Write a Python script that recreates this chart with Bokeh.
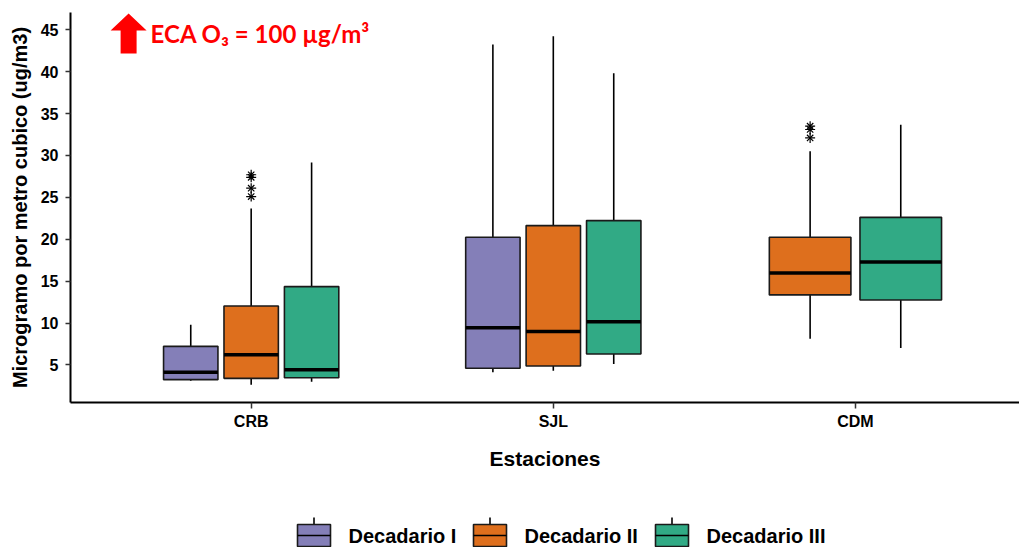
from bokeh.plotting import figure
from bokeh.layouts import column
from bokeh.models import (Range1d, FixedTicker, Label, PolyAnnotation, ColumnDataSource)
from bokeh.core.properties import value
from bokeh.embed import file_html
from bokeh.resources import INLINE

# ---------------- data ----------------
stations = ["CRB", "SJL", "CDM"]
groups = ["Decadario I", "Decadario II", "Decadario III"]
colors = ["#847FB8", "#DE6F1D", "#31AA85"]

box_station = ["CRB", "CRB", "CRB", "SJL", "SJL", "SJL", "CDM", "CDM"]
box_group = ["Decadario I", "Decadario II", "Decadario III",
             "Decadario I", "Decadario II", "Decadario III",
             "Decadario II", "Decadario III"]
lower = [3.13, 2.65, 3.00, 4.12, 4.32, 5.12, 8.14, 7.03]
q1 = [3.25, 3.40, 3.48, 4.60, 4.88, 6.31, 13.36, 12.76]
median = [4.12, 6.23, 4.44, 9.45, 8.98, 10.17, 15.98, 17.30]
q3 = [7.22, 12.04, 14.35, 20.24, 21.63, 22.23, 20.24, 22.62]
upper = [9.81, 23.66, 29.16, 43.24, 44.24, 39.82, 30.50, 33.66]

outlier_station = ["CRB", "CRB", "CRB", "CRB", "CDM", "CDM", "CDM"]
outlier_group = ["Decadario II"] * 7
outlier_value = [27.7, 27.4, 26.1, 25.1, 33.5, 33.1, 32.1]

y_ticks = [5, 10, 15, 20, 25, 30, 35, 40, 45]

# ---------------- dodge layout ----------------
DODGE = 0.6
present = {s: [g for g in groups if any(bs == s and bg == g for bs, bg in zip(box_station, box_group))]
           for s in stations}


def pos(s, g):
    gl = present[s]
    n = len(gl)
    slot = DODGE / n
    i = gl.index(g)
    return stations.index(s) + 1 + (i - (n - 1) / 2) * slot, 0.9 * slot


MAIN_H = 510
TOP = 12
p = figure(width=1019, height=MAIN_H, output_backend="svg", toolbar_location=None,
           x_range=Range1d(0.402, 3.543),
           y_range=Range1d(0.52, 45 + (29.3 - TOP) / 8.375),
           min_border_left=70, min_border_right=0, min_border_top=TOP, min_border_bottom=108)
p.outline_line_color = None
p.xgrid.visible = False
p.ygrid.visible = False
p.background_fill_color = "white"

BOX_STYLE = dict(line_color="#1a1a1a", line_width=1.6)
WHISK_STYLE = dict(line_color="black", line_width=1.6)

for g, c in zip(groups, colors):
    idx = [i for i, bg in enumerate(box_group) if bg == g]
    xs, ws = [], []
    for i in idx:
        x, w = pos(box_station[i], g)
        xs.append(x)
        ws.append(w)
    src = ColumnDataSource(dict(
        x=xs, w=ws,
        x0=[x - w / 2 for x, w in zip(xs, ws)],
        x1=[x + w / 2 for x, w in zip(xs, ws)],
        lo=[lower[i] for i in idx], q1=[q1[i] for i in idx],
        md=[median[i] for i in idx], q3=[q3[i] for i in idx],
        hi=[upper[i] for i in idx]))
    p.segment(x0="x", y0="q3", x1="x", y1="hi", source=src, **WHISK_STYLE)
    p.segment(x0="x", y0="lo", x1="x", y1="q1", source=src, **WHISK_STYLE)
    p.vbar(x="x", width="w", bottom="q1", top="q3", source=src, fill_color=c, **BOX_STYLE)
    p.segment(x0="x0", y0="md", x1="x1", y1="md", source=src, line_color="black", line_width=3.5)

ox = [pos(s, g)[0] for s, g in zip(outlier_station, outlier_group)]
osrc = ColumnDataSource(dict(x=ox, y=outlier_value))
p.scatter(x="x", y="y", source=osrc, marker="cross", size=10, line_color="black", line_width=1.2)
p.scatter(x="x", y="y", source=osrc, marker="x", size=9, line_color="black", line_width=1.2)

# ---------------- axes ----------------
p.xaxis.ticker = FixedTicker(ticks=[1, 2, 3])
p.xaxis.major_label_overrides = {1: "CRB", 2: "SJL", 3: "CDM"}
p.yaxis.ticker = FixedTicker(ticks=y_ticks)
for ax in (p.xaxis, p.yaxis):
    ax.axis_line_width = 2
    ax.axis_line_color = "black"
    ax.major_tick_line_color = "#333333"
    ax.major_tick_line_width = 1.5
    ax.major_tick_in = 0
    ax.minor_tick_line_color = None
    ax.major_label_text_font = "Liberation Sans"
    ax.major_label_text_font_style = "bold"
    ax.major_label_text_color = "black"
    ax.axis_label_text_font = "Liberation Sans"
    ax.axis_label_text_font_style = "bold"
    ax.axis_label_text_color = "black"
p.xaxis.major_tick_out = 6
p.yaxis.major_tick_out = 5
p.xaxis.major_label_text_font_size = "16px"
p.yaxis.major_label_text_font_size = "16px"
p.xaxis.major_label_standoff = 4
p.yaxis.major_label_standoff = 7
p.xaxis.axis_label = "Estaciones"
p.xaxis.axis_label_text_font_size = "21px"
p.xaxis.axis_label_standoff = 14
p.yaxis.axis_label = "Microgramo por metro cubico (ug/m3)"
p.yaxis.axis_label_text_font_size = "20px"
p.yaxis.axis_label_standoff = 7

# ---------------- annotation (pixel-placed) ----------------
def px2x(px):
    return 1 + (px - 250.6) / 302.2


def py2y(py):
    return 45 - (py - 29.3) / 8.375


arrow_px = [(120, 53), (120, 30), (110, 30), (128, 13), (146, 30), (136, 30), (136, 53)]
p.add_layout(PolyAnnotation(xs=[px2x(a) for a, b in arrow_px], ys=[py2y(b) for a, b in arrow_px],
                            fill_color="#FF0000", fill_alpha=1, line_color=None))
p.add_layout(Label(x=px2x(150), y=py2y(33), text="ECA O\u2083 = 100 \u00b5g/m\u00b3",
                   text_font="Lato", text_font_style="bold", text_font_size="24px",
                   text_color="#FF0000", text_baseline="alphabetic"))

# ---------------- legend strip (separate figure, frame aligned; data = pixels) ----------------
LEG_H = 547 - MAIN_H
lf = figure(width=1019, height=LEG_H, output_backend="svg", toolbar_location=None,
            x_range=Range1d(70, 1019), y_range=Range1d(0, LEG_H),
            min_border_left=70, min_border_right=0, min_border_top=0, min_border_bottom=0,
            x_axis_type=None, y_axis_type=None)
lf.outline_line_color = None
lf.xgrid.visible = False
lf.ygrid.visible = False

key_left = [297, 473, 655]
key_w = 33
key_centers = [k + key_w / 2 for k in key_left]
lsrc = ColumnDataSource(dict(
    left=key_left, right=[k + key_w for k in key_left],
    cx=key_centers, color=colors, label=groups,
    tx=[k + key_w + 18 for k in key_left]))
lf.segment(x0="cx", y0=23, x1="cx", y1=30, source=lsrc, **WHISK_STYLE)
lf.quad(left="left", right="right", bottom=1, top=23, source=lsrc, fill_color="color", **BOX_STYLE)
lf.segment(x0="left", y0=12, x1="right", y1=12, source=lsrc, **WHISK_STYLE)
lf.text(x="tx", y=12, text="label", source=lsrc, text_font=value("Liberation Sans"),
        text_font_style="bold", text_font_size="20px", text_color="black",
        text_baseline="middle", text_align="left")

layout = column(p, lf, spacing=0)
open("out.html", "w").write(file_html(layout, INLINE))
